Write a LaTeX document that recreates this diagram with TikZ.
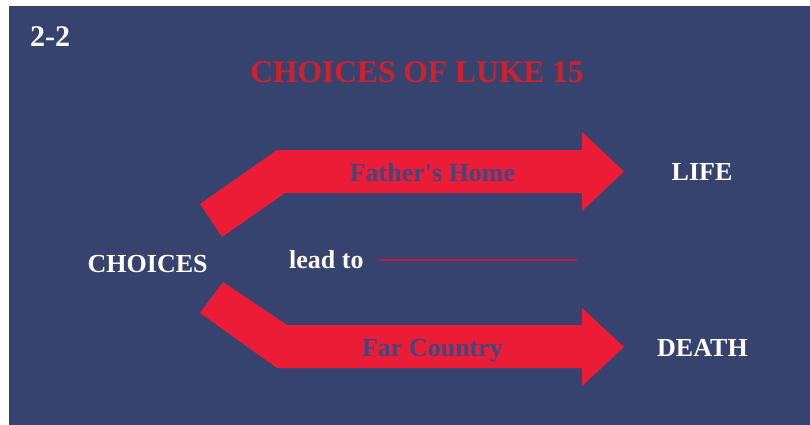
\documentclass[tikz,border=0pt]{standalone}
\usepackage{fontspec}
\setmainfont{Liberation Serif}
\definecolor{bgblue}{RGB}{53,67,110}
\definecolor{arrred}{RGB}{237,28,54}
\definecolor{titlered}{RGB}{208,32,46}
\definecolor{arrtext}{RGB}{62,72,128}
\definecolor{linered}{RGB}{185,30,62}
\tikzset{
  lbl/.style={inner sep=0pt, text=white, font=\bfseries\fontsize{26}{30}\selectfont},
  arrlbl/.style={inner sep=0pt, text=arrtext, font=\bfseries\fontsize{26}{30}\selectfont},
  bigarrow/.style={fill=arrred, draw=none},
}
\begin{document}
\begin{tikzpicture}[x=1pt,y=-1pt]
\fill[white] (0,0) rectangle (810,425);
\useasboundingbox (0,0) rectangle (810,425);
\fill[bgblue] (9,6) rectangle (810,425);
% arrows
\fill[bigarrow] (200,204) -- (277,150) -- (582,150) -- (582,132) -- (624,171.5) -- (582,211) -- (582,193) -- (285,193) -- (222,237) -- cycle;
\fill[bigarrow] (223,282) -- (287,325) -- (582,325) -- (582,308) -- (624,347) -- (582,386) -- (582,368) -- (277,368) -- (200,313) -- cycle;
% texts
\node[inner sep=0pt, text=white, font=\bfseries\fontsize{30}{34}\selectfont, anchor=base west] (num) at (30,47) {2-2};
\node[inner sep=0pt, text=titlered, font=\bfseries\fontsize{31.5}{36}\selectfont, anchor=base] (title) at (417,83) {CHOICES OF LUKE 15};
\node[arrlbl, anchor=base] (fh) at (432.5,181) {Father\textquotesingle s Home};
\node[arrlbl, anchor=base] (fc) at (432.5,356) {Far Country};
\node[lbl, anchor=base west] (choices) at (87.5,272) {CHOICES};
\node[lbl, anchor=base west] (lead) at (289,268.5) {lead to};
\node[lbl, anchor=base west] (life) at (671.5,180) {LIFE};
\node[lbl, anchor=base west] (death) at (657,356.5) {DEATH};
\coordinate (la) at (378,260);
\coordinate (lb) at (577,260);
\draw[linered, line width=1.8pt] (la) -- (lb);
\end{tikzpicture}
\end{document}
